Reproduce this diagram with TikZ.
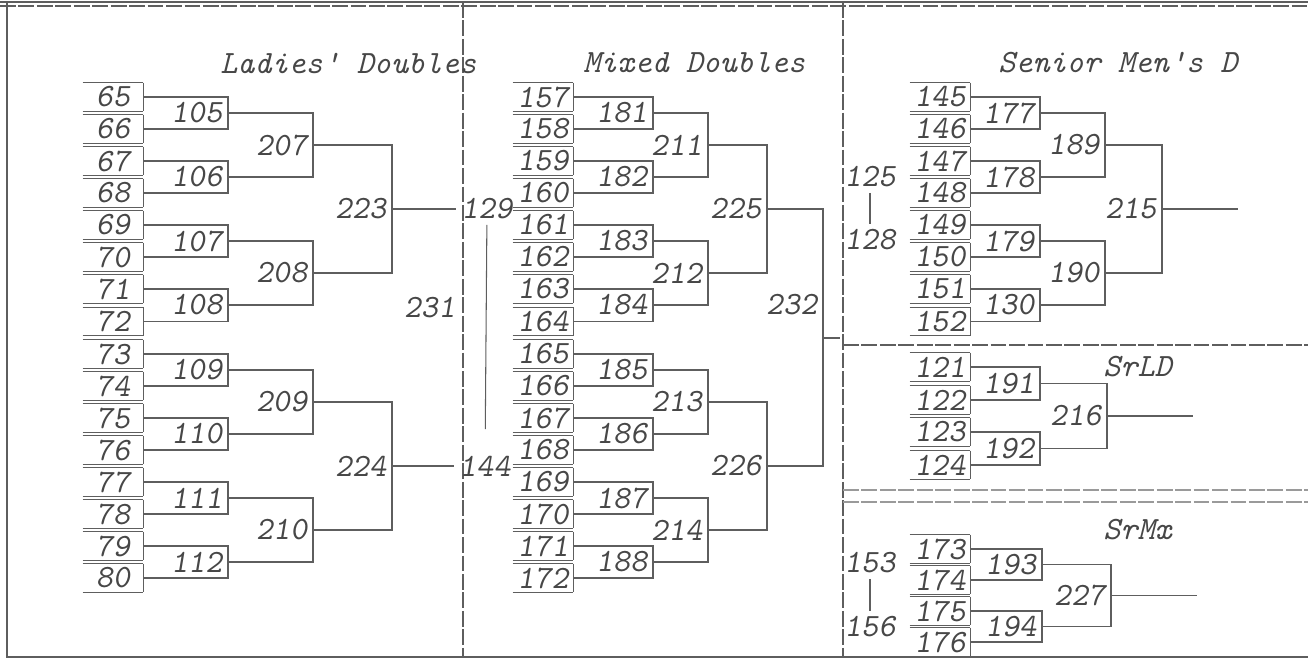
\documentclass[tikz,border=0pt]{standalone}
\usepackage{xcolor}
\usepackage{tikz}
\definecolor{ink}   {HTML}{474747}
\definecolor{rulec} {HTML}{5E5E5E}
\definecolor{faint} {HTML}{9A9A9A}
\newcommand{\typew}{\ttfamily\itshape\fontsize{18.5}{21}\selectfont}
\newcommand{\typen}{\ttfamily\slshape\fontsize{18.5}{21}\selectfont}
\tikzset{
  rule/.style    = {draw=rulec, line width=0.6pt},
  frame/.style   = {draw=rulec, line width=0.7pt},
  divider/.style = {draw=rulec, line width=0.6pt, dash pattern=on 9pt off 1.5pt},
  seed/.style    = {font=\typen, text=ink, minimum width=1.2cm, minimum height=0.56cm,
                    inner sep=0pt,
                    append after command={
                      (\tikzlastnode.north west) edge[rule] (\tikzlastnode.north east)
                      (\tikzlastnode.south west) edge[rule] (\tikzlastnode.south east)
                      (\tikzlastnode.north east) edge[rule] (\tikzlastnode.south east)}},
  match/.style   = {font=\typen, text=ink, anchor=east, inner xsep=3pt, inner ysep=1pt},
  rng/.style     = {font=\typen, text=ink, inner sep=3pt},
  title/.style   = {font=\typew, text=ink, anchor=west, inner sep=0pt},
}

\begin{document}
\begin{tikzpicture}[x=0.2mm, y=-0.2mm]
  \useasboundingbox (0,0) rectangle (1308,659);

  % frame and panels
  \draw[frame] (0,2) -- (1308,2);
  \draw[divider] (0,6) -- (1308,6);
  \draw[frame] (7,2) -- (7,657) -- (1308,657);
  \draw[divider] (463,2) -- (463,657);
  \draw[divider] (843,2) -- (843,657);
  \draw[divider] (843,345) -- (1308,345);
  \draw[divider, draw=faint] (843,490) -- (1308,490);
  \draw[divider, draw=faint] (843,502) -- (1308,502);

  % Ladies' Doubles
  \node[title] (tLD) at (220,63) {Ladies' Doubles};
  \node[seed] (s65) at (113,97) {65};
  \node[seed] (s66) at (113,129) {66};
  \node[seed] (s67) at (113,161) {67};
  \node[seed] (s68) at (113,193) {68};
  \node[seed] (s69) at (113,225) {69};
  \node[seed] (s70) at (113,257) {70};
  \node[seed] (s71) at (113,289) {71};
  \node[seed] (s72) at (113,321.5) {72};
  \node[seed] (s73) at (113,354) {73};
  \node[seed] (s74) at (113,386) {74};
  \node[seed] (s75) at (113,418) {75};
  \node[seed] (s76) at (113,450) {76};
  \node[seed] (s77) at (113,482) {77};
  \node[seed] (s78) at (113,514) {78};
  \node[seed] (s79) at (113,546) {79};
  \node[seed] (s80) at (113,578) {80};

  \node[match] (m105) at (228,113) {105};
  \node[match] (m106) at (228,177) {106};
  \node[match] (m107) at (228,241) {107};
  \node[match] (m108) at (228,305) {108};
  \node[match] (m109) at (228,370) {109};
  \node[match] (m110) at (228,434) {110};
  \node[match] (m111) at (228,498) {111};
  \node[match] (m112) at (228,562) {112};
  \node[match] (m207) at (313,145) {207};
  \node[match] (m208) at (313,273) {208};
  \node[match] (m209) at (313,402) {209};
  \node[match] (m210) at (313,530) {210};
  \node[match] (m223) at (392,209) {223};
  \node[match] (m224) at (392,466) {224};
  \node[match] (m231) at (461,308) {231};
  \node[rng] (r129) at (487,209) {129};
  \node[rng] (r144) at (485,466) {144};

  \draw[rule] (s65.east) -| (m105.east) |- (s66.east);
  \draw[rule] (s67.east) -| (m106.east) |- (s68.east);
  \draw[rule] (s69.east) -| (m107.east) |- (s70.east);
  \draw[rule] (s71.east) -| (m108.east) |- (s72.east);
  \draw[rule] (s73.east) -| (m109.east) |- (s74.east);
  \draw[rule] (s75.east) -| (m110.east) |- (s76.east);
  \draw[rule] (s77.east) -| (m111.east) |- (s78.east);
  \draw[rule] (s79.east) -| (m112.east) |- (s80.east);
  \draw[rule] (m105.east) -| (m207.east) |- (m106.east);
  \draw[rule] (m107.east) -| (m208.east) |- (m108.east);
  \draw[rule] (m109.east) -| (m209.east) |- (m110.east);
  \draw[rule] (m111.east) -| (m210.east) |- (m112.east);
  \draw[rule] (m207.east) -| (m223.east) |- (m208.east);
  \draw[rule] (m209.east) -| (m224.east) |- (m210.east);
  \draw[rule] (m223.east) -- (r129.west);
  \draw[rule] (m224.east) -- (r144.west);
  \draw[rule, shorten >=12pt] (r129) -- (r144);

  % Mixed Doubles
  \node[title] (tMD) at (583,63) {Mixed Doubles};
  \node[seed] (s157) at (543,97) {157};
  \node[seed] (s158) at (543,129) {158};
  \node[seed] (s159) at (543,161) {159};
  \node[seed] (s160) at (543,193) {160};
  \node[seed] (s161) at (543,225) {161};
  \node[seed] (s162) at (543,257) {162};
  \node[seed] (s163) at (543,289) {163};
  \node[seed] (s164) at (543,321.5) {164};
  \node[seed] (s165) at (543,354) {165};
  \node[seed] (s166) at (543,386) {166};
  \node[seed] (s167) at (543,418) {167};
  \node[seed] (s168) at (543,450) {168};
  \node[seed] (s169) at (543,482) {169};
  \node[seed] (s170) at (543,514) {170};
  \node[seed] (s171) at (543,546) {171};
  \node[seed] (s172) at (543,578) {172};

  \node[match] (m181) at (653,113) {181};
  \node[match] (m182) at (653,177) {182};
  \node[match] (m183) at (653,241) {183};
  \node[match] (m184) at (653,305) {184};
  \node[match] (m185) at (653,370) {185};
  \node[match] (m186) at (653,434) {186};
  \node[match] (m187) at (653,498) {187};
  \node[match] (m188) at (653,562) {188};
  \node[match] (m211) at (708,145) {211};
  \node[match] (m212) at (708,273) {212};
  \node[match] (m213) at (708,402) {213};
  \node[match] (m214) at (708,530) {214};
  \node[match] (m225) at (767,209) {225};
  \node[match] (m226) at (767,466) {226};
  \node[match] (m232) at (823,305) {232};
  \coordinate (j232) at (823,338);
  \coordinate (o232) at (840,338);

  \draw[rule] (s157.east) -| (m181.east) |- (s158.east);
  \draw[rule] (s159.east) -| (m182.east) |- (s160.east);
  \draw[rule] (s161.east) -| (m183.east) |- (s162.east);
  \draw[rule] (s163.east) -| (m184.east) |- (s164.east);
  \draw[rule] (s165.east) -| (m185.east) |- (s166.east);
  \draw[rule] (s167.east) -| (m186.east) |- (s168.east);
  \draw[rule] (s169.east) -| (m187.east) |- (s170.east);
  \draw[rule] (s171.east) -| (m188.east) |- (s172.east);
  \draw[rule] (m181.east) -| (m211.east) |- (m182.east);
  \draw[rule] (m183.east) -| (m212.east) |- (m184.east);
  \draw[rule] (m185.east) -| (m213.east) |- (m186.east);
  \draw[rule] (m187.east) -| (m214.east) |- (m188.east);
  \draw[rule] (m211.east) -| (m225.east) |- (m212.east);
  \draw[rule] (m213.east) -| (m226.east) |- (m214.east);
  \draw[rule] (m225.east) -| (j232) |- (m226.east);
  \draw[rule] (j232) -- (o232);

  % Senior Men's D
  \node[title] (tSM) at (998,63) {Senior Men's D};
  \node[seed] (s145) at (940,97) {145};
  \node[seed] (s146) at (940,129) {146};
  \node[seed] (s147) at (940,161) {147};
  \node[seed] (s148) at (940,193) {148};
  \node[seed] (s149) at (940,225) {149};
  \node[seed] (s150) at (940,257) {150};
  \node[seed] (s151) at (940,289) {151};
  \node[seed] (s152) at (940,321.5) {152};

  \node[match] (m177) at (1040,113) {177};
  \node[match] (m178) at (1040,177) {178};
  \node[match] (m179) at (1040,241) {179};
  \node[match] (m130) at (1040,305) {130};
  \node[match] (m189) at (1105,145) {189};
  \node[match] (m190) at (1105,273) {190};
  \node[match] (m215) at (1162,209) {215};
  \coordinate (o215) at (1238,209);
  \node[rng] (r125) at (870,177) {125};
  \node[rng] (r128) at (870,240) {128};

  \draw[rule] (s145.east) -| (m177.east) |- (s146.east);
  \draw[rule] (s147.east) -| (m178.east) |- (s148.east);
  \draw[rule] (s149.east) -| (m179.east) |- (s150.east);
  \draw[rule] (s151.east) -| (m130.east) |- (s152.east);
  \draw[rule] (m177.east) -| (m189.east) |- (m178.east);
  \draw[rule] (m179.east) -| (m190.east) |- (m130.east);
  \draw[rule] (m189.east) -| (m215.east) |- (m190.east);
  \draw[rule] (m215.east) -- (o215);
  \draw[rule] (r125) -- (r128);

  % SrLD
  \node[title] (tSL) at (1103,367) {SrLD};
  \node[seed] (s121) at (940,367) {121};
  \node[seed] (s122) at (940,400) {122};
  \node[seed] (s123) at (940,432) {123};
  \node[seed] (s124) at (940,465) {124};
  \node[match] (m191) at (1040,383.5) {191};
  \node[match] (m192) at (1040,448.5) {192};
  \node[match] (m216) at (1107,416) {216};
  \coordinate (o216) at (1193,416);

  \draw[rule] (s121.east) -| (m191.east) |- (s122.east);
  \draw[rule] (s123.east) -| (m192.east) |- (s124.east);
  \draw[rule] (m191.east) -| (m216.east) |- (m192.east);
  \draw[rule] (m216.east) -- (o216);

  % SrMx
  \node[title] (tSX) at (1103,530) {SrMx};
  \node[seed] (s173) at (940,549) {173};
  \node[seed] (s174) at (940,580) {174};
  \node[seed] (s175) at (940,611) {175};
  \node[seed] (s176) at (940,642) {176};
  \node[match] (m193) at (1042,564.5) {193};
  \node[match] (m194) at (1042,626.5) {194};
  \node[match] (m227) at (1111,595.5) {227};
  \coordinate (o227) at (1197,595.5);
  \node[rng] (r153) at (870,563) {153};
  \node[rng] (r156) at (870,627) {156};

  \draw[rule] (s173.east) -| (m193.east) |- (s174.east);
  \draw[rule] (s175.east) -| (m194.east) |- (s176.east);
  \draw[rule] (m193.east) -| (m227.east) |- (m194.east);
  \draw[rule] (m227.east) -- (o227);
  \draw[rule] (r153) -- (r156);
\end{tikzpicture}
\end{document}
